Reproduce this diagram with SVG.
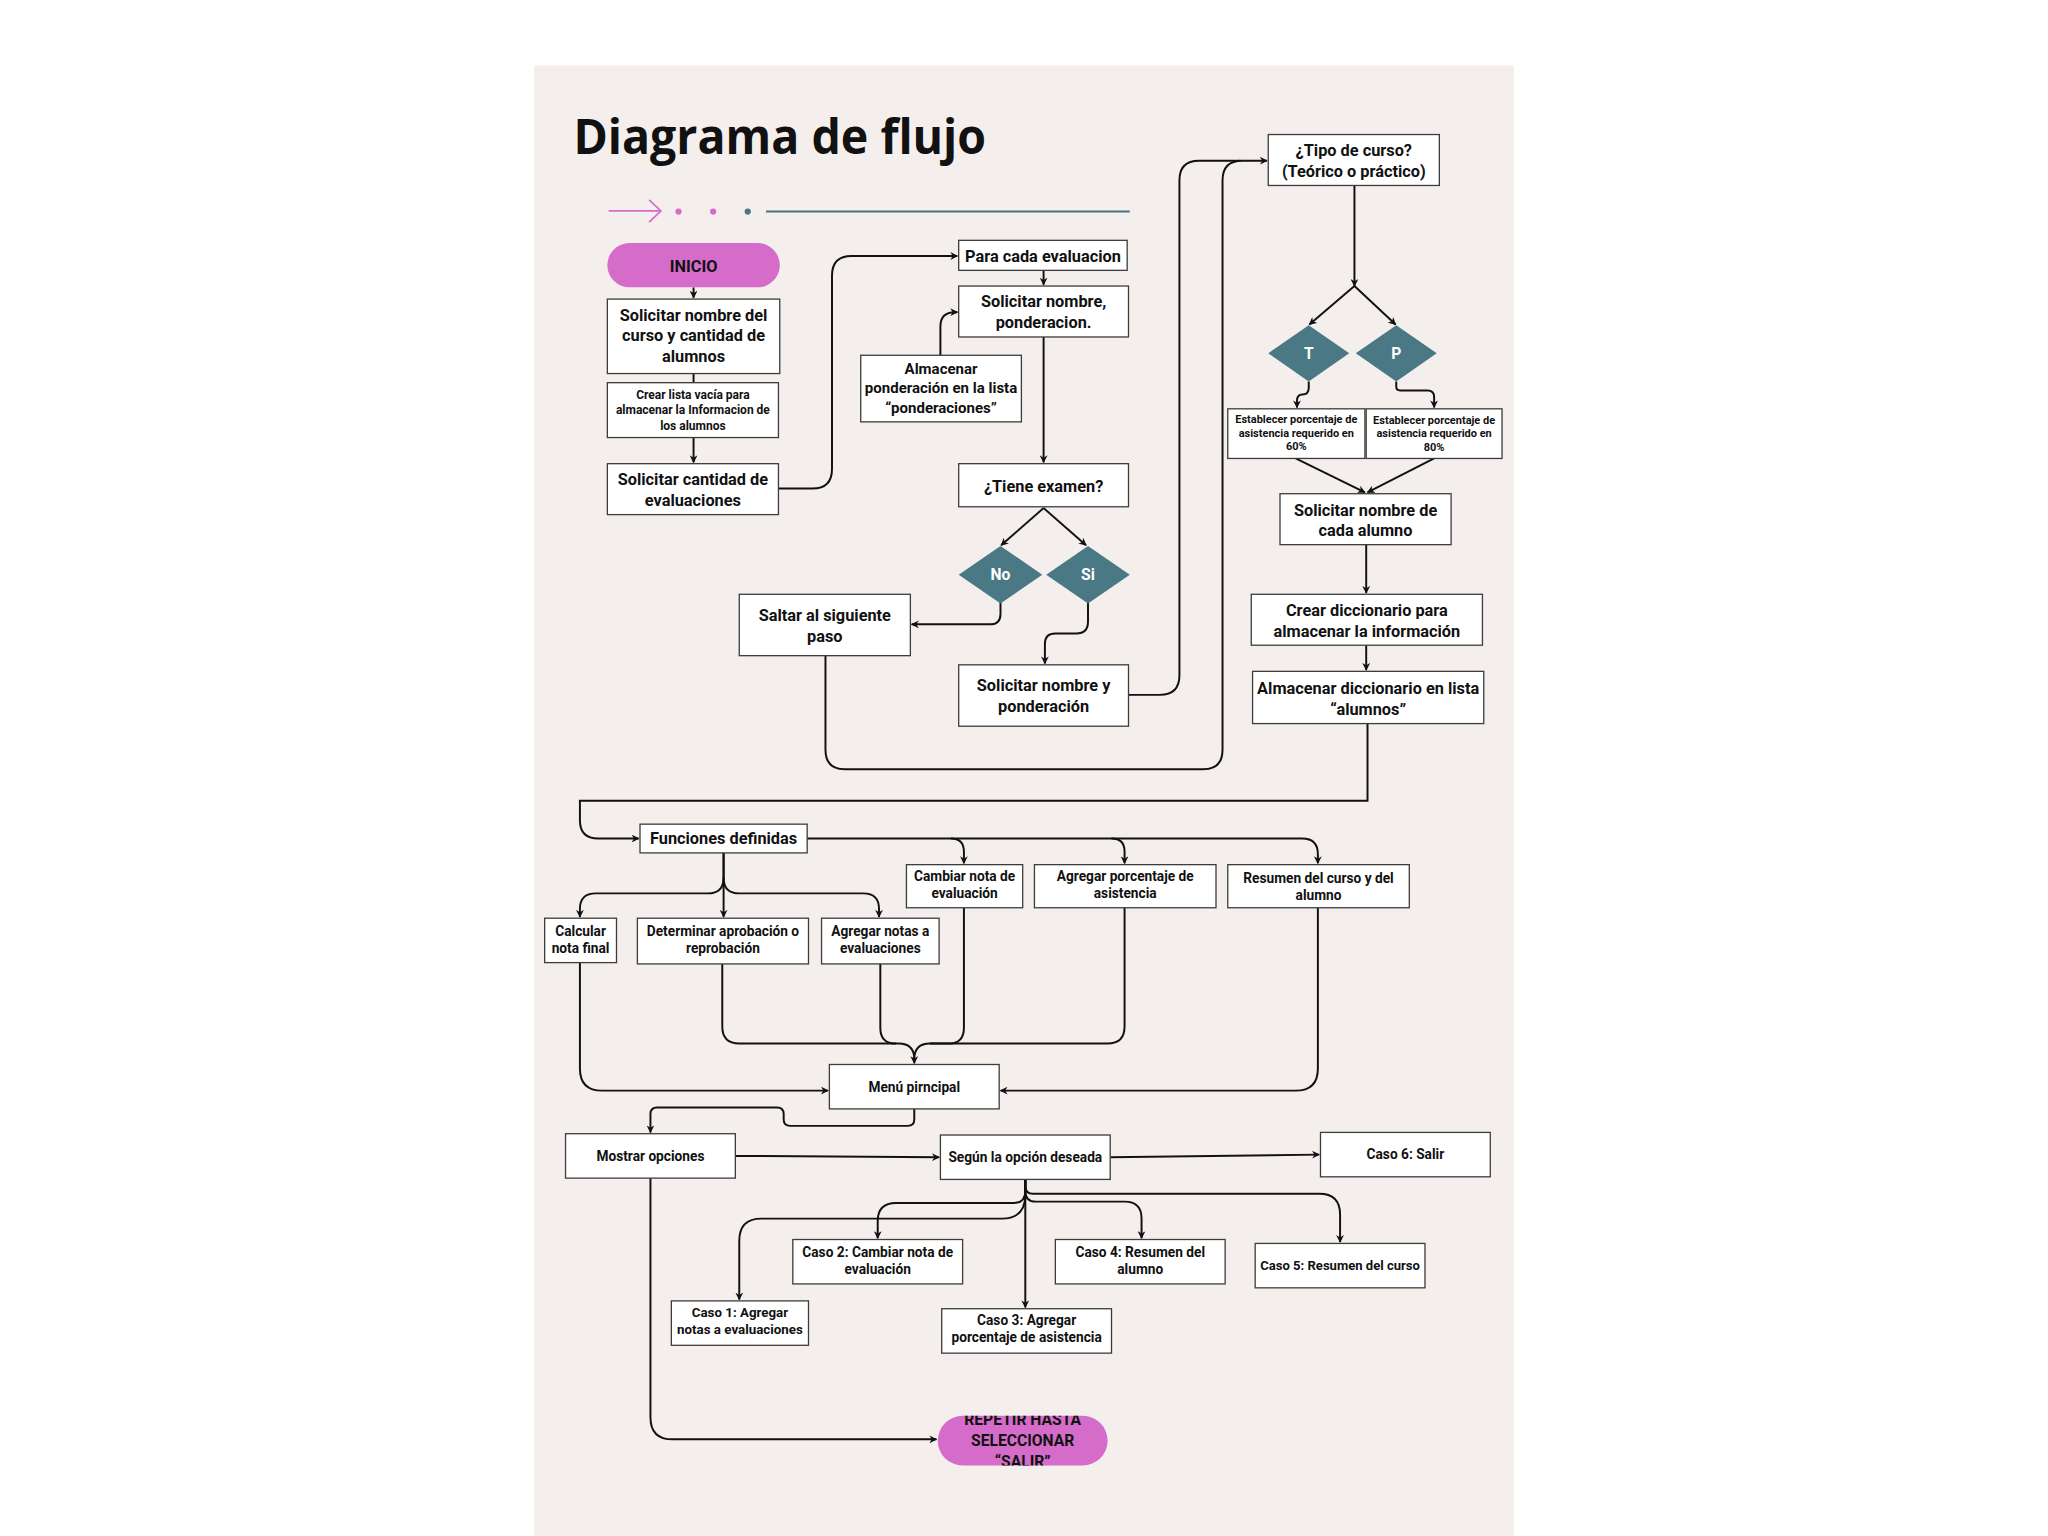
<svg xmlns="http://www.w3.org/2000/svg" width="2048" height="1536" viewBox="0 0 2048 1536">
<style>
.box{fill:#fff;stroke:#3d3d3d;stroke-width:1}
.pill{fill:#D56CC9}
.dia{fill:#4A7985}
.t{font-family:Roboto,"Liberation Sans",sans-serif;font-weight:700;fill:#111;text-anchor:middle}
.w{fill:#fff}
.f12{font-size:12.5px}
.f115{font-size:11.5px}
.f105{font-size:10.5px}
.f92{font-size:9.2px}
.f84{font-size:8.4px}
.c{fill:none;stroke:#111;stroke-width:1.5}
.a{marker-end:url(#ah)}
</style>
<defs>
<marker id="ah" viewBox="0 0 10 10" refX="9" refY="5" markerUnits="userSpaceOnUse" markerWidth="6" markerHeight="6" orient="auto">
<path d="M0 0 L10 5 L0 10 L3 5 z" fill="#111"/>
</marker>
<clipPath id="clipRep"><rect x="718" y="1084" width="130" height="38"/></clipPath>
</defs>
<rect x="0" y="0" width="2048" height="1536" fill="#fff"/>
<g transform="scale(1.306122)">
<rect x="409" y="50" width="750" height="1130" fill="#F4EFEC"/>
<text x="439" y="118" font-family="'Open Sans','Liberation Sans',sans-serif" font-weight="700" font-size="36.5" textLength="316" lengthAdjust="spacingAndGlyphs" fill="#111">Diagrama de flujo</text>
<g id="decor">
<path d="M466 161.5 H505" stroke="#D56CC9" stroke-width="1.3" fill="none"/>
<path d="M497 153 L506 161.5 L497 170" stroke="#D56CC9" stroke-width="1.3" fill="none"/>
<circle cx="519.5" cy="162" r="2.4" fill="#D56CC9"/>
<circle cx="546" cy="162" r="2.4" fill="#D56CC9"/>
<circle cx="572.5" cy="162" r="2.4" fill="#4A7985"/>
<path d="M586.5 162 H865" stroke="#3F7582" stroke-width="1.5"/>
</g>
<g id="connectors">
<path class="c a" d="M531 220 V228"/>
<path class="c" d="M531 286 V293"/>
<path class="c a" d="M531 335 V354"/>
<path class="c a" d="M596 374 H622 Q637 374 637 359 V211 Q637 196 652 196 H733"/>
<path class="c a" d="M799 207 V218"/>
<path class="c a" d="M720 272 V250 Q720 239 731 239 H733"/>
<path class="c a" d="M799 258 V354"/>
<path class="c a" d="M799 389 L766.5 417.5"/>
<path class="c a" d="M799 389 L831.5 417.5"/>
<path class="c a" d="M766 461 V470 Q766 478 758 478 H698"/>
<path class="c a" d="M833 461 V476 Q833 485 824 485 H808 Q800 485 800 493 V508"/>
<path class="c" d="M864 532 H888 Q903 532 903 517 V138 Q903 123 918 123 H950"/>
<path class="c a" d="M632 502 V574 Q632 589 647 589 H921 Q936 589 936 574 V138 Q936 123 951 123 H970"/>
<path class="c a" d="M1037 142 V219"/>
<path class="c a" d="M1037 219 L1002.5 248.5"/>
<path class="c a" d="M1037 219 L1068.5 248.5"/>
<path class="c a" d="M1002 292 V297 Q1002 302 997 302 Q993 302 993 307 V312"/>
<path class="c a" d="M1069 292 V296 Q1069 299 1072 299 H1093 Q1098 299 1098 304 V312"/>
<path class="c a" d="M992 351 L1045 377"/>
<path class="c a" d="M1098 351 L1047 377"/>
<path class="c a" d="M1046 417 V454"/>
<path class="c a" d="M1046 494 V513"/>
<path class="c a" d="M1047 554 V613 H444 V628 Q444 642 458 642 H489"/>
<path class="c a" d="M618 642 H997 Q1009 642 1009 654 V661"/>
<path class="c a" d="M728 642 Q738 642 738 652 V661"/>
<path class="c a" d="M851 642 Q861 642 861 652 V661"/>
<path class="c a" d="M554 653 V672 Q554 684 542 684 H456 Q444 684 444 696 V702"/>
<path class="c a" d="M554 653 V702"/>
<path class="c a" d="M554 672 Q554 684 566 684 H661 Q673 684 673 696 V702"/>
<path class="c a" d="M444 737 V818 Q444 835 461 835 H634"/>
<path class="c a" d="M553 738 V786 Q553 799 566 799 H688 Q700 799 700 811 V814"/>
<path class="c" d="M674 738 V787 Q674 799 686 799"/>
<path class="c" d="M738 695 V787 Q738 799 726 799 H712 Q700 799 700 811"/>
<path class="c" d="M861 695 V786 Q861 799 848 799 H712"/>
<path class="c a" d="M1009 695 V818 Q1009 835 992 835 H766"/>
<path class="c a" d="M700 849 V857 Q700 862 695 862 H605 Q600 862 600 857 V853 Q600 848 595 848 H503 Q498 848 498 853 V867"/>
<path class="c a" d="M563 885 L719 886"/>
<path class="c a" d="M850 886 L1010 884"/>
<path class="c a" d="M785 903 V915 Q785 933 767 933 H583 Q566 933 566 950 V995"/>
<path class="c a" d="M785 903 V912 Q785 921 776 921 H686 Q672 921 672 935 V948"/>
<path class="c a" d="M785 903 V1001" stroke-width="1.2"/>
<path class="c a" d="M785 903 V912 Q785 920 793 920 H861 Q874 920 874 933 V948"/>
<path class="c a" d="M785 903 V908 Q785 914 791 914 H1010 Q1026 914 1026 930 V951"/>
<path class="c a" d="M498 902 V1085 Q498 1102 515 1102 H717"/>
</g>
<g id="n-inicio"><rect class="pill" x="465" y="186" width="132" height="34" rx="17"/><text class="t f12" x="531" y="208.3" font-size="12">INICIO</text></g>
<g id="n-curso"><rect class="box" x="465" y="229" width="132" height="57"/><text class="t f12" x="531"><tspan x="531" y="245.4">Solicitar nombre del</tspan><tspan x="531" y="261.4">curso y cantidad de</tspan><tspan x="531" y="277.4">alumnos</tspan></text></g>
<g id="n-lista"><rect class="box" x="465" y="293" width="131" height="42"/><text class="t f92"><tspan x="530.5" y="305.3">Crear lista vacía para</tspan><tspan x="530.5" y="317.3">almacenar la Informacion de</tspan><tspan x="530.5" y="329.3">los alumnos</tspan></text></g>
<g id="n-cantidad"><rect class="box" x="465" y="355" width="131" height="39"/><text class="t f12"><tspan x="530.5" y="371.4">Solicitar cantidad de</tspan><tspan x="530.5" y="387.4">evaluaciones</tspan></text></g>
<g id="n-para"><rect class="box" x="734" y="184" width="129" height="23"/><text class="t f12" x="798.5" y="200.4">Para cada evaluacion</text></g>
<g id="n-solnom"><rect class="box" x="734" y="219" width="130" height="39"/><text class="t f12"><tspan x="799" y="235.4">Solicitar nombre,</tspan><tspan x="799" y="251.4">ponderacion.</tspan></text></g>
<g id="n-almpond"><rect class="box" x="659" y="272" width="123" height="51"/><text class="t f115"><tspan x="720.5" y="286">Almacenar</tspan><tspan x="720.5" y="301">ponderación en la lista</tspan><tspan x="720.5" y="316">“ponderaciones”</tspan></text></g>
<g id="n-tiene"><rect class="box" x="734" y="355" width="130" height="33"/><text class="t f12" x="799" y="376.4">¿Tiene examen?</text></g>
<g id="n-no"><polygon class="dia" points="734,440 766,418 798,440 766,462"/><text class="t w" x="766" y="444.2" font-size="12">No</text></g>
<g id="n-si"><polygon class="dia" points="801,440 833,418 865,440 833,462"/><text class="t w" x="833" y="444.2" font-size="12">Si</text></g>
<g id="n-saltar"><rect class="box" x="566" y="455" width="131" height="47"/><text class="t f12"><tspan x="631.5" y="475.4">Saltar al siguiente</tspan><tspan x="631.5" y="491.4">paso</tspan></text></g>
<g id="n-solnomy"><rect class="box" x="734" y="509" width="130" height="47"/><text class="t f12"><tspan x="799" y="529.4">Solicitar nombre y</tspan><tspan x="799" y="545.4">ponderación</tspan></text></g>
<g id="n-tipo"><rect class="box" x="971" y="103" width="131" height="39"/><text class="t f12"><tspan x="1036.5" y="119.4">¿Tipo de curso?</tspan><tspan x="1036.5" y="135.4">(Teórico o práctico)</tspan></text></g>
<g id="n-t"><polygon class="dia" points="971,270.5 1002,249 1033,270.5 1002,292"/><text class="t w" x="1002" y="274.7" font-size="12">T</text></g>
<g id="n-p"><polygon class="dia" points="1038,270.5 1069,249 1100,270.5 1069,292"/><text class="t w" x="1069" y="274.7" font-size="12">P</text></g>
<g id="n-60"><rect class="box" x="940" y="313" width="105" height="38"/><text class="t f84"><tspan x="992.5" y="324">Establecer porcentaje de</tspan><tspan x="992.5" y="334.3">asistencia requerido en</tspan><tspan x="992.5" y="344.6">60%</tspan></text></g>
<g id="n-80"><rect class="box" x="1046" y="313" width="104" height="38"/><text class="t f84"><tspan x="1098" y="324.5">Establecer porcentaje de</tspan><tspan x="1098" y="334.8">asistencia requerido en</tspan><tspan x="1098" y="345.1">80%</tspan></text></g>
<g id="n-solalu"><rect class="box" x="980" y="378" width="131" height="39"/><text class="t f12"><tspan x="1045.5" y="394.9">Solicitar nombre de</tspan><tspan x="1045.5" y="410.4">cada alumno</tspan></text></g>
<g id="n-creardic"><rect class="box" x="958" y="455" width="177" height="39"/><text class="t f12"><tspan x="1046.5" y="471.4">Crear diccionario para</tspan><tspan x="1046.5" y="487.4">almacenar la información</tspan></text></g>
<g id="n-almdic"><rect class="box" x="959" y="514" width="177" height="40"/><text class="t f12"><tspan x="1047.5" y="531.4">Almacenar diccionario en lista</tspan><tspan x="1047.5" y="547.4">“alumnos”</tspan></text></g>
<g id="n-func"><rect class="box" x="490" y="631" width="128" height="22"/><text class="t f12" x="554" y="646.4">Funciones definidas</text></g>
<g id="n-cambiar"><rect class="box" x="694" y="662" width="89" height="33"/><text class="t f105"><tspan x="738.5" y="674.7">Cambiar nota de</tspan><tspan x="738.5" y="687.7">evaluación</tspan></text></g>
<g id="n-agpor"><rect class="box" x="792" y="662" width="139" height="33"/><text class="t f105"><tspan x="861.5" y="674.7">Agregar porcentaje de</tspan><tspan x="861.5" y="687.7">asistencia</tspan></text></g>
<g id="n-resumen"><rect class="box" x="940" y="662" width="139" height="33"/><text class="t f105"><tspan x="1009.5" y="675.7">Resumen del curso y del</tspan><tspan x="1009.5" y="688.7">alumno</tspan></text></g>
<g id="n-calc"><rect class="box" x="417" y="703" width="55" height="34"/><text class="t f105"><tspan x="444.5" y="716.7">Calcular</tspan><tspan x="444.5" y="729.7">nota final</tspan></text></g>
<g id="n-determ"><rect class="box" x="488" y="703" width="131" height="35"/><text class="t f105"><tspan x="553.5" y="716.7">Determinar aprobación o</tspan><tspan x="553.5" y="729.7">reprobación</tspan></text></g>
<g id="n-agnotas"><rect class="box" x="629" y="703" width="90" height="35"/><text class="t f105"><tspan x="674" y="716.7">Agregar notas a</tspan><tspan x="674" y="729.7">evaluaciones</tspan></text></g>
<g id="n-menu"><rect class="box" x="635" y="815" width="130" height="34"/><text class="t f105" x="700" y="835.7">Menú pirncipal</text></g>
<g id="n-mostrar"><rect class="box" x="433" y="868" width="130" height="34"/><text class="t f105" x="498" y="888.7">Mostrar opciones</text></g>
<g id="n-segun"><rect class="box" x="720" y="869" width="130" height="34"/><text class="t f105" x="785" y="889.7">Según la opción deseada</text></g>
<g id="n-caso6"><rect class="box" x="1011" y="867" width="130" height="34"/><text class="t f105" x="1076" y="887.7">Caso 6: Salir</text></g>
<g id="n-caso2"><rect class="box" x="607" y="949" width="130" height="34"/><text class="t f105"><tspan x="672" y="962.7">Caso 2: Cambiar nota de</tspan><tspan x="672" y="975.7">evaluación</tspan></text></g>
<g id="n-caso4"><rect class="box" x="808" y="949" width="130" height="34"/><text class="t f105"><tspan x="873" y="962.7">Caso 4: Resumen del</tspan><tspan x="873" y="975.7">alumno</tspan></text></g>
<g id="n-caso5"><rect class="box" x="961" y="952" width="130" height="34"/><text class="t" font-size="10" x="1026" y="972.5">Caso 5: Resumen del curso</text></g>
<g id="n-caso1"><rect class="box" x="514" y="996" width="105" height="34"/><text class="t" font-size="10.2"><tspan x="566.5" y="1008.7">Caso 1: Agregar</tspan><tspan x="566.5" y="1021.7">notas a evaluaciones</tspan></text></g>
<g id="n-caso3"><rect class="box" x="721" y="1002" width="130" height="34"/><text class="t f105"><tspan x="786" y="1014.7">Caso 3: Agregar</tspan><tspan x="786" y="1027.7">porcentaje de asistencia</tspan></text></g>
<g id="n-repetir"><rect class="pill" x="718" y="1084" width="130" height="38" rx="19"/><text class="t" font-size="12" clip-path="url(#clipRep)"><tspan x="783" y="1091.2">REPETIR HASTA</tspan><tspan x="783" y="1107.2">SELECCIONAR</tspan><tspan x="783" y="1123.2">“SALIR”</tspan></text></g>
</g>
</svg>
